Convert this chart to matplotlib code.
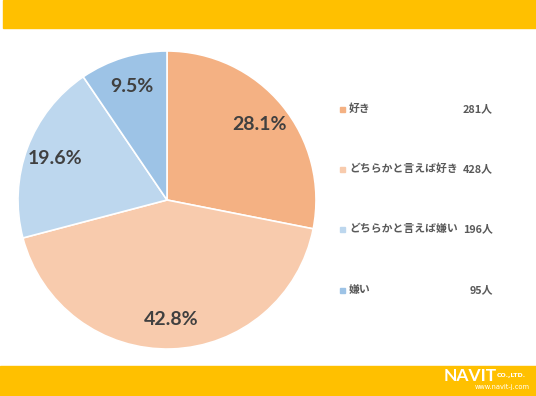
import math
import matplotlib.pyplot as plt

plt.rcParams['font.family'] = ['Noto Sans CJK JP', 'DejaVu Sans']

labels = ["好き", "どちらかと言えば好き", "どちらかと言えば嫌い", "嫌い"]
counts = [281, 428, 196, 95]
pcts = [28.1, 42.8, 19.6, 9.5]
colors = ["#F4B183", "#F8CBAD", "#BDD7EE", "#9DC3E6"]

W, H = 536, 396
fig = plt.figure(figsize=(W / 100, H / 100), dpi=100)
fig.patch.set_facecolor("white")

# yellow header / footer bands
fig.patches.append(plt.Rectangle((3 / W, 1 - 28 / H), 1, 28 / H, transform=fig.transFigure,
                                 color="#FFC000", zorder=0))
fig.patches.append(plt.Rectangle((0, 0), 1, 30 / H, transform=fig.transFigure,
                                 color="#FFC000", zorder=0))

# pie
cx, cy, r = 167, 200, 149
ax = fig.add_axes([(cx - r) / W, (H - cy - r) / H, 2 * r / W, 2 * r / H])
wedges, texts = ax.pie(pcts, colors=colors, startangle=90, counterclock=False,
                       wedgeprops=dict(edgecolor="white", linewidth=1.2))
ax.set_aspect("auto")
ax.set_xlim(-1, 1)
ax.set_ylim(-1, 1)
start = 90
for p in pcts:
    mid = math.radians(start - p * 3.6 / 2)
    ax.text(0.8 * math.cos(mid), 0.8 * math.sin(mid), f"{p}%", ha="center", va="center",
            fontsize=14, fontweight="bold", color="#404040", family=["Lato"])
    start -= p * 3.6

# legend
ys = [109, 169, 229, 290]
for lab, c, col, y in zip(labels, counts, colors, ys):
    fig.patches.append(plt.Rectangle((340 / W, 1 - (y + 3) / H), 5 / W, 5 / H,
                                     transform=fig.transFigure, color=col))
    fig.text(349 / W, 1 - y / H, lab, ha="left", va="center", fontsize=7.8,
             fontweight="bold", color="#595959")
    fig.text(493 / W, 1 - y / H, f"{c}人", ha="right", va="center", fontsize=7.8,
             fontweight="bold", color="#595959")

# logo
fig.text(444 / W, 1 - 376 / H, "NAVIT", ha="left", va="center", fontsize=12.5,
         fontweight="bold", color="white", family=["Lato"])
fig.text(497 / W, 1 - 376 / H, "CO.,LTD.", ha="left", va="center", fontsize=4.5,
         fontweight="bold", color="white", family=["DejaVu Sans"])
fig.text(530 / W, 1 - 387 / H, "www.navit-j.com", ha="right", va="center", fontsize=4.8,
         color="white", family=["DejaVu Sans"])

fig.savefig("out.png", dpi=100)
